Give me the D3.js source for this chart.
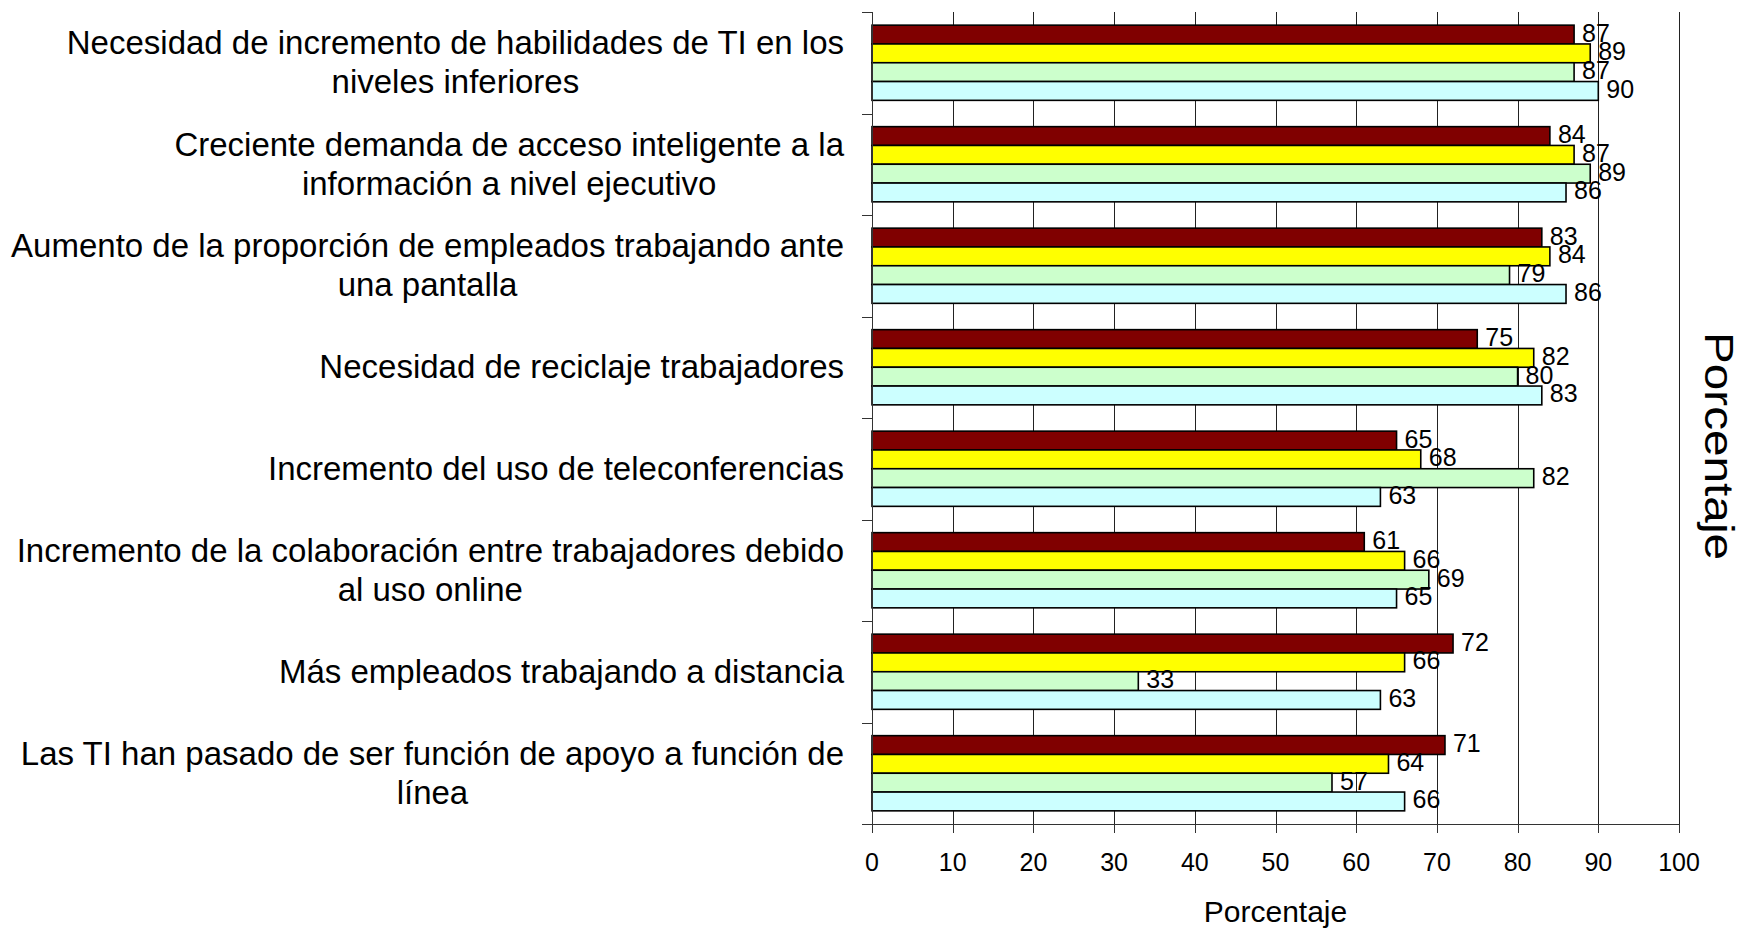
<!DOCTYPE html>
<html>
<head>
<meta charset="utf-8">
<script src="https://cdn.jsdelivr.net/npm/d3@7"></script>
<style>
	html, body { margin: 0; padding: 0; background: #fff; }
	svg { display: block; font-family: "Liberation Sans", Arial, sans-serif; }
</style>
</head>
<body>
<svg id="chart" width="1741" height="928"></svg>
<script>
// ------- data -------
const categories = [
	["Necesidad de incremento de habilidades de TI en los", "niveles inferiores"],
	["Creciente demanda de acceso inteligente a la", "información a nivel ejecutivo"],
	["Aumento de la proporción de empleados trabajando ante", "una pantalla"],
	["Necesidad de reciclaje trabajadores"],
	["Incremento del uso de teleconferencias"],
	["Incremento de la colaboración entre trabajadores debido", "al uso online"],
	["Más empleados trabajando a distancia"],
	["Las TI han pasado de ser función de apoyo a función de", "línea"]
];
const seriesNames = ["s1", "s2", "s3", "s4"];
const seriesColors = ["#800000", "#FFFF00", "#CCFFCC", "#CCFFFF"];
const s1 = [87, 84, 83, 75, 65, 61, 72, 71];
const s2 = [89, 87, 84, 82, 68, 66, 66, 64];
const s3 = [87, 89, 79, 80, 82, 69, 33, 57];
const s4 = [90, 86, 86, 83, 63, 65, 63, 66];
const xTicks = [0, 10, 20, 30, 40, 50, 60, 70, 80, 90, 100];
const axisTitle = "Porcentaje";

const seriesValues = [s1, s2, s3, s4];

// plot area
const plotL = 872, plotR = 1679, plotT = 12, plotB = 824;

const svg = d3.select("#chart");

const x = d3.scaleLinear().domain([0, 100]).range([plotL, plotR]);
const y = d3.scaleBand().domain(d3.range(categories.length)).range([plotT, plotB]).padding(0);
const yInner = d3.scaleBand().domain(seriesNames).range([0, y.bandwidth()]).paddingInner(0).paddingOuter(0.7);

// ------- gridlines -------
svg.append("g")
	.selectAll("line")
	.data(xTicks.slice(1))
	.join("line")
	.attr("x1", d => Math.round(x(d)) + 0.5)
	.attr("x2", d => Math.round(x(d)) + 0.5)
	.attr("y1", plotT)
	.attr("y2", plotB)
	.attr("stroke", "#222")
	.attr("stroke-width", 1);

// ------- bars -------
const rowData = i => seriesNames.map((s, k) => ({ s: s, k: k, v: seriesValues[k][i] }));

const groups = svg.append("g")
	.selectAll("g")
	.data(categories.map((c, i) => i))
	.join("g")
	.attr("transform", i => `translate(0,${y(i)})`);

groups.selectAll("rect")
	.data(rowData)
	.join("rect")
	.attr("x", x(0))
	.attr("y", d => yInner(d.s))
	.attr("width", d => x(d.v) - x(0))
	.attr("height", yInner.bandwidth())
	.attr("fill", d => seriesColors[d.k])
	.attr("stroke", "#000")
	.attr("stroke-width", 1.6);

groups.selectAll("text")
	.data(rowData)
	.join("text")
	.attr("x", d => x(d.v) + 8)
	.attr("y", d => yInner(d.s) + yInner.bandwidth() / 2 + 7)
	.attr("font-size", 25)
	.attr("fill", "#000")
	.text(d => d.v);

// ------- y axis -------
const yAxis = svg.append("g");
yAxis.append("line")
	.attr("x1", plotL + 0.5).attr("x2", plotL + 0.5)
	.attr("y1", plotT).attr("y2", plotB)
	.attr("stroke", "#333");
yAxis.selectAll("line.tick")
	.data(d3.range(categories.length + 1))
	.join("line")
	.attr("class", "tick")
	.attr("x1", plotL - 10).attr("x2", plotL)
	.attr("y1", i => Math.round(plotT + i * y.step()) + 0.5)
	.attr("y2", i => Math.round(plotT + i * y.step()) + 0.5)
	.attr("stroke", "#333");

// category labels, lines centred on each other, block right-aligned
const labelRight = 844, lineH = 39;
categories.forEach((lines, i) => {
	const cy = y(i) + y.bandwidth() / 2;
	const t = svg.append("text")
		.attr("font-size", 33)
		.attr("fill", "#000")
		.attr("text-anchor", "middle");
	const spans = lines.map((ln, j) => t.append("tspan")
		.attr("y", cy + (j - (lines.length - 1) / 2) * lineH + 11)
		.text(ln));
	const w = d3.max(spans, s => s.node().getComputedTextLength());
	spans.forEach(s => s.attr("x", labelRight - w / 2));
});

// ------- x axis -------
const xAxis = svg.append("g");
xAxis.append("line")
	.attr("x1", plotL - 10).attr("x2", plotR)
	.attr("y1", plotB + 0.5).attr("y2", plotB + 0.5)
	.attr("stroke", "#333");
xAxis.selectAll("line.tick")
	.data(xTicks)
	.join("line")
	.attr("class", "tick")
	.attr("x1", d => Math.round(x(d)) + 0.5)
	.attr("x2", d => Math.round(x(d)) + 0.5)
	.attr("y1", plotB)
	.attr("y2", plotB + 9)
	.attr("stroke", "#333");
xAxis.selectAll("text")
	.data(xTicks)
	.join("text")
	.attr("x", d => x(d))
	.attr("y", 871)
	.attr("text-anchor", "middle")
	.attr("font-size", 25)
	.text(d => d);

// axis titles
svg.append("text")
	.attr("x", (plotL + plotR) / 2)
	.attr("y", 922)
	.attr("text-anchor", "middle")
	.attr("font-size", 30)
	.text(axisTitle);

// right-hand title is drawn a bit stretched along its length, like the original
svg.append("text")
	.attr("transform", "translate(1705,446) rotate(90)")
	.attr("text-anchor", "middle")
	.attr("font-size", 40)
	.attr("textLength", 228)
	.attr("lengthAdjust", "spacingAndGlyphs")
	.text(axisTitle);
</script>
</body>
</html>
